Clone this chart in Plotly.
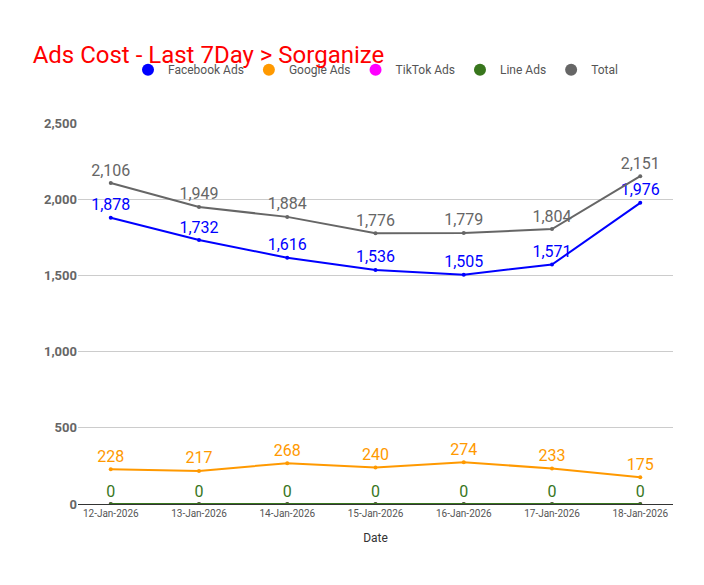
import plotly.graph_objects as go

dates = ["12-Jan-2026", "13-Jan-2026", "14-Jan-2026", "15-Jan-2026",
         "16-Jan-2026", "17-Jan-2026", "18-Jan-2026"]
facebook = [1878, 1732, 1616, 1536, 1505, 1571, 1976]
google = [228, 217, 268, 240, 274, 233, 175]
tiktok = [0, 0, 0, 0, 0, 0, 0]
line_ads = [0, 0, 0, 0, 0, 0, 0]
total = [2106, 1949, 1884, 1776, 1779, 1804, 2151]

series = [
    ("Facebook Ads", facebook, "#0000ff", True),
    ("Google Ads", google, "#ff9900", True),
    ("TikTok Ads", tiktok, "#ff00ff", False),
    ("Line Ads", line_ads, "#38761d", True),
    ("Total", total, "#666666", True),
]

fig = go.Figure()
for name, vals, col, lab in series:
    fig.add_trace(go.Scatter(
        x=dates, y=vals, name=name, showlegend=False,
        mode="lines+markers+text" if lab else "lines+markers",
        line=dict(color=col, width=2),
        marker=dict(color=col, size=4),
        text=[f"{v:,}" for v in vals] if lab else None,
        textposition="top center",
        textfont=dict(color=col, size=16),
    ))
    # legend entry with round dot only
    fig.add_trace(go.Scatter(
        x=[None], y=[None], name=name, mode="markers",
        marker=dict(color=col, size=12),
    ))

fig.update_layout(
    width=704, height=585,
    paper_bgcolor="white", plot_bgcolor="white",
    font=dict(family="Roboto", color="#444"),
    title=dict(text="Ads Cost - Last 7Day > Sorganize", x=0.035, y=0.935,
               font=dict(color="#ff0000", size=24)),
    margin=dict(l=70, r=39, t=115, b=89),
    legend=dict(orientation="h", x=0.5, xanchor="center", y=1.14, yanchor="middle",
                font=dict(size=12, color="#555")),
    xaxis=dict(title=dict(text="Date", font=dict(size=12, color="#333")),
               tickfont=dict(size=10, color="#555"), showgrid=False,
               showline=True, linecolor="#333", ticks=""),
    yaxis=dict(range=[0, 2500], dtick=500, tickformat=",", gridcolor="#cccccc",
               tickfont=dict(size=13, color="#666", weight="bold"), zeroline=False),
)
fig.write_html("out.html")
